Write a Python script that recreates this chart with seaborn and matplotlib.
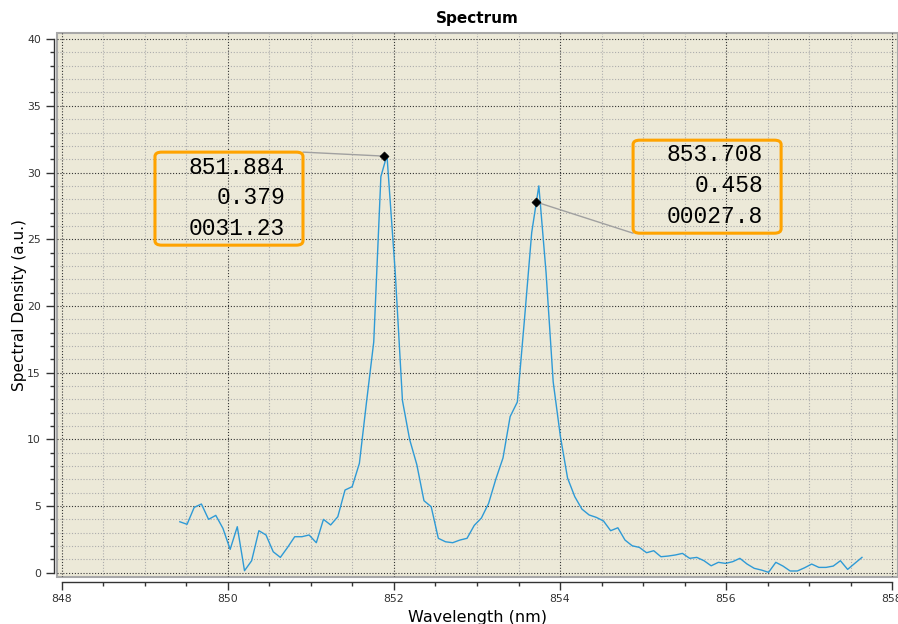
import numpy as np
import pandas as pd
import matplotlib
matplotlib.use("Agg")
import matplotlib.pyplot as plt
from matplotlib.patches import FancyBboxPatch
from matplotlib.ticker import MultipleLocator
import seaborn as sns

# wavelength samples (nm) and measured spectral density (a.u.)
wavelength = [
    849.420, 849.507, 849.593, 849.680, 849.766, 849.853, 849.939, 850.026,
    850.112, 850.199, 850.285, 850.372, 850.458, 850.545, 850.631, 850.718,
    850.804, 850.891, 850.977, 851.064, 851.150, 851.237, 851.323, 851.410,
    851.496, 851.583, 851.669, 851.756, 851.842, 851.915, 852.015, 852.102,
    852.188, 852.275, 852.361, 852.448, 852.534, 852.621, 852.707, 852.794,
    852.880, 852.967, 853.053, 853.140, 853.226, 853.313, 853.399, 853.486,
    853.572, 853.659, 853.745, 853.832, 853.918, 854.005, 854.091, 854.178,
    854.264, 854.351, 854.437, 854.524, 854.610, 854.697, 854.783, 854.870,
    854.956, 855.043, 855.129, 855.216, 855.302, 855.389, 855.475, 855.562,
    855.648, 855.735, 855.821, 855.908, 855.994, 856.081, 856.167, 856.254,
    856.340, 856.427, 856.513, 856.600, 856.686, 856.773, 856.859, 856.946,
    857.032, 857.119, 857.205, 857.292, 857.378, 857.465, 857.551, 857.638,
]
density = [
    3.82, 3.63, 4.90, 5.15, 4.00, 4.30, 3.33, 1.75,
    3.45, 0.15, 0.90, 3.15, 2.83, 1.57, 1.15, 1.90,
    2.70, 2.70, 2.83, 2.25, 4.00, 3.58, 4.20, 6.20,
    6.45, 8.20, 12.8, 17.3, 29.7, 31.3, 22.5, 12.9,
    10.0, 8.10, 5.40, 4.95, 2.58, 2.32, 2.25, 2.45,
    2.58, 3.55, 4.10, 5.20, 7.00, 8.60, 11.7, 12.8,
    19.0, 25.5, 29.0, 22.5, 14.3, 10.2, 7.10, 5.70,
    4.77, 4.33, 4.15, 3.88, 3.15, 3.37, 2.45, 2.02,
    1.90, 1.50, 1.65, 1.20, 1.25, 1.33, 1.45, 1.08,
    1.15, 0.90, 0.52, 0.78, 0.70, 0.83, 1.08, 0.65,
    0.33, 0.20, 0.03, 0.78, 0.50, 0.13, 0.13, 0.37,
    0.65, 0.40, 0.40, 0.50, 0.90, 0.25, 0.70, 1.15,
]

# peak markers and their readout boxes (centre, FWHM, height)
peak_x = [851.884, 853.708]
peak_y = [31.23, 27.8]
readout = [["851.884", "0.379", "0031.23"],
           ["853.708", "0.458", "00027.8"]]

df = pd.DataFrame({"Wavelength": wavelength, "Density": density})
peaks = pd.DataFrame({"x": peak_x, "y": peak_y})

fig = plt.figure(figsize=(8.98, 6.24), dpi=100)
ax = fig.add_axes([57 / 898, 47 / 624, 841 / 898, 544 / 624])
ax.set_facecolor("#ECE9D8")
ax.patch.set_edgecolor("#A8A8A8")
ax.patch.set_linewidth(1.5)

sns.lineplot(data=df, x="Wavelength", y="Density", ax=ax,
             color="#2E9AD6", linewidth=1.0, zorder=3)
sns.scatterplot(data=peaks, x="x", y="y", ax=ax, marker="D", s=22,
                color="black", edgecolor="black", zorder=5)

ax.set_xlim(847.94, 858.072)
ax.set_ylim(-0.32, 40.46)

ax.xaxis.set_major_locator(MultipleLocator(2))
ax.xaxis.set_minor_locator(MultipleLocator(0.5))
ax.yaxis.set_major_locator(MultipleLocator(5))
ax.yaxis.set_minor_locator(MultipleLocator(1))

ax.grid(which="major", color="#333333", linestyle=(0, (1, 1.6)), linewidth=0.8)
ax.grid(which="minor", color="#ADADAD", linestyle=(0, (1, 1.6)), linewidth=0.8)
ax.set_axisbelow(True)

for s in ["top", "right"]:
    ax.spines[s].set_visible(False)
ax.spines["left"].set_position(("outward", 2.5))
ax.spines["bottom"].set_position(("outward", 3.6))
ax.spines["left"].set_bounds(0, 40)
ax.spines["bottom"].set_bounds(848, 858)
for s in ["left", "bottom"]:
    ax.spines[s].set_color("#333333")
    ax.spines[s].set_linewidth(1.0)

ax.tick_params(which="major", length=5.5, width=1, color="#333333",
               labelsize=7.8, labelcolor="#333333")
ax.tick_params(which="minor", length=3, width=1, color="#333333")

ax.set_title("Spectrum", fontsize=11, fontweight="bold", pad=7)
ax.set_xlabel("Wavelength (nm)", fontsize=11.5, labelpad=4)
ax.set_ylabel("Spectral Density (a.u.)", fontsize=11)
ax.yaxis.set_label_coords(-0.036, 0.5)

# readout boxes in axes fraction
boxes = [(0.1165, 0.610, 0.176, 0.171), (0.685, 0.632, 0.176, 0.171)]
text_right = [0.271, 0.8395]
line_y = [[0.752, 0.697, 0.640], [0.776, 0.719, 0.662]]
anchor = [(0.2925, 0.781), (0.685, 0.632)]

for i in range(2):
    bx, by, bw, bh = boxes[i]
    ax.add_patch(FancyBboxPatch((bx, by), bw, bh, transform=ax.transAxes,
                                boxstyle="round,pad=0,rounding_size=0.008",
                                facecolor="none", edgecolor="#FFA300",
                                linewidth=2.2, zorder=6, clip_on=False))
    for j, s in enumerate(readout[i]):
        ax.text(text_right[i], line_y[i][j], s, transform=ax.transAxes,
                ha="right", va="center", fontsize=16.5,
                family=["Liberation Mono", "DejaVu Sans Mono"],
                color="black", zorder=7)
    ax.annotate("", xy=(peak_x[i], peak_y[i]), xycoords="data",
                xytext=anchor[i], textcoords="axes fraction",
                arrowprops=dict(arrowstyle="-", color="#A0A0A0", lw=1,
                                shrinkA=0, shrinkB=0), zorder=4)

fig.savefig("out.png", dpi=100)
